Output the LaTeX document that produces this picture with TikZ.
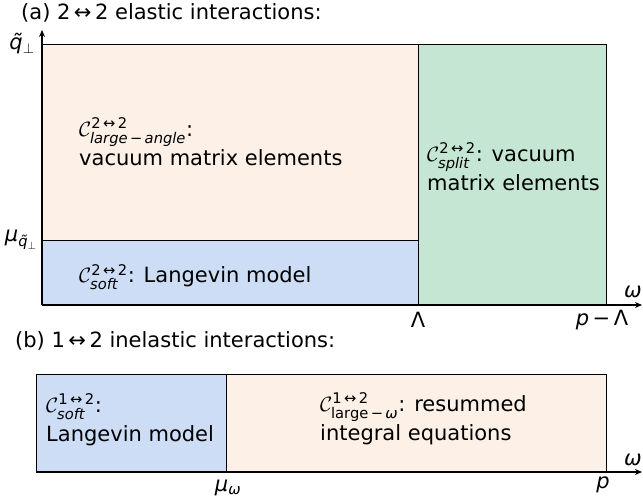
\documentclass[tikz,border=0pt]{standalone}
\usepackage{fontspec}
\usepackage{amsmath}
\setmainfont{DejaVu Sans}
\usetikzlibrary{arrows.meta}
\definecolor{cpeach}{RGB}{253,240,230}
\definecolor{cblue}{RGB}{204,221,245}
\definecolor{cgreen}{RGB}{197,230,211}
\newcommand{\Cal}{\mathcal{C}}
\begin{document}
\begin{tikzpicture}[x=1pt,y=-1pt,
  region/.style={draw=black,line width=0.8pt},
  axisline/.style={line width=1.4pt,-{Stealth[length=7pt,width=6pt]}},
  lbl/.style={inner sep=0pt,anchor=west,align=left,font=\fontsize{21}{29.5}\selectfont},
  ticklbl/.style={inner sep=0pt,font=\fontsize{21}{24}\selectfont}]
\useasboundingbox (0,0) rectangle (643,500);
% panel (a)
\node[ticklbl,anchor=west] (ta) at (21,13) {(a) 2\,↔\,2 elastic interactions:};
\fill[cpeach] (42,44) rectangle (418,240);
\fill[cblue] (42,240) rectangle (418,305);
\fill[cgreen] (418,44) rectangle (606,305);
\draw[region] (42,44) -- (606,44) -- (606,305);
\draw[region] (42,240) -- (418,240);
\draw[region] (418,44) -- (418,305);
\coordinate (oa) at (42,305);
\coordinate (ya) at (42,30);
\coordinate (xa) at (642,305);
\draw[axisline] (oa) -- (ya);
\draw[axisline] (oa) -- (xa);
\node[ticklbl] (qa) at (22,44) {\itshape\~q\(_{\perp}\)};
\node[ticklbl] (mua) at (21,240) {\itshape μ\(_{\text{\itshape\~q}_{\perp}}\)};
\node[ticklbl] (lama) at (418,320) {Λ};
\node[ticklbl] (pla) at (602,320) {\itshape p\,\upshape−\,Λ};
\node[ticklbl] (wa) at (633,292) {\itshape ω};
\node[lbl] (la) at (79,142) {\(\Cal^{\text{2\,↔\,2}}_{\text{\itshape large}\,\text{−}\,\text{\itshape angle}}\):\\vacuum matrix elements};
\node[lbl] (sa) at (79,277) {\(\Cal^{\text{2\,↔\,2}}_{\text{\itshape soft}}\): Langevin model};
\node[lbl] (spa) at (427,167) {\(\Cal^{\text{2\,↔\,2}}_{\text{\itshape split}}\): vacuum\\matrix elements};
% panel (b)
\node[ticklbl,anchor=west] (tb) at (15,341) {(b) 1\,↔\,2 inelastic interactions:};
\fill[cblue] (36,374) rectangle (226,472);
\fill[cpeach] (226,374) rectangle (606,472);
\draw[region] (36,374) -- (606,374) -- (606,472);
\draw[region] (36,374) -- (36,472);
\draw[region] (226,374) -- (226,472);
\coordinate (ob) at (36,472);
\coordinate (xb) at (642,472);
\draw[axisline] (ob) -- (xb);
\node[ticklbl] (mub) at (228,488) {\itshape μ\(_{\text{\itshape ω}}\)};
\node[ticklbl] (pb) at (603,485) {\itshape p};
\node[ticklbl] (wb) at (633,460) {\itshape ω};
\node[lbl] (sb) at (46,420) {\(\Cal^{\text{1\,↔\,2}}_{\text{\itshape soft}}\):\\Langevin model};
\node[lbl] (lb) at (320,419) {\(\Cal^{\text{1\,↔\,2}}_{\text{large}\,\text{−}\,\text{\itshape ω}}\): resummed\\integral equations};
\end{tikzpicture}
\end{document}
